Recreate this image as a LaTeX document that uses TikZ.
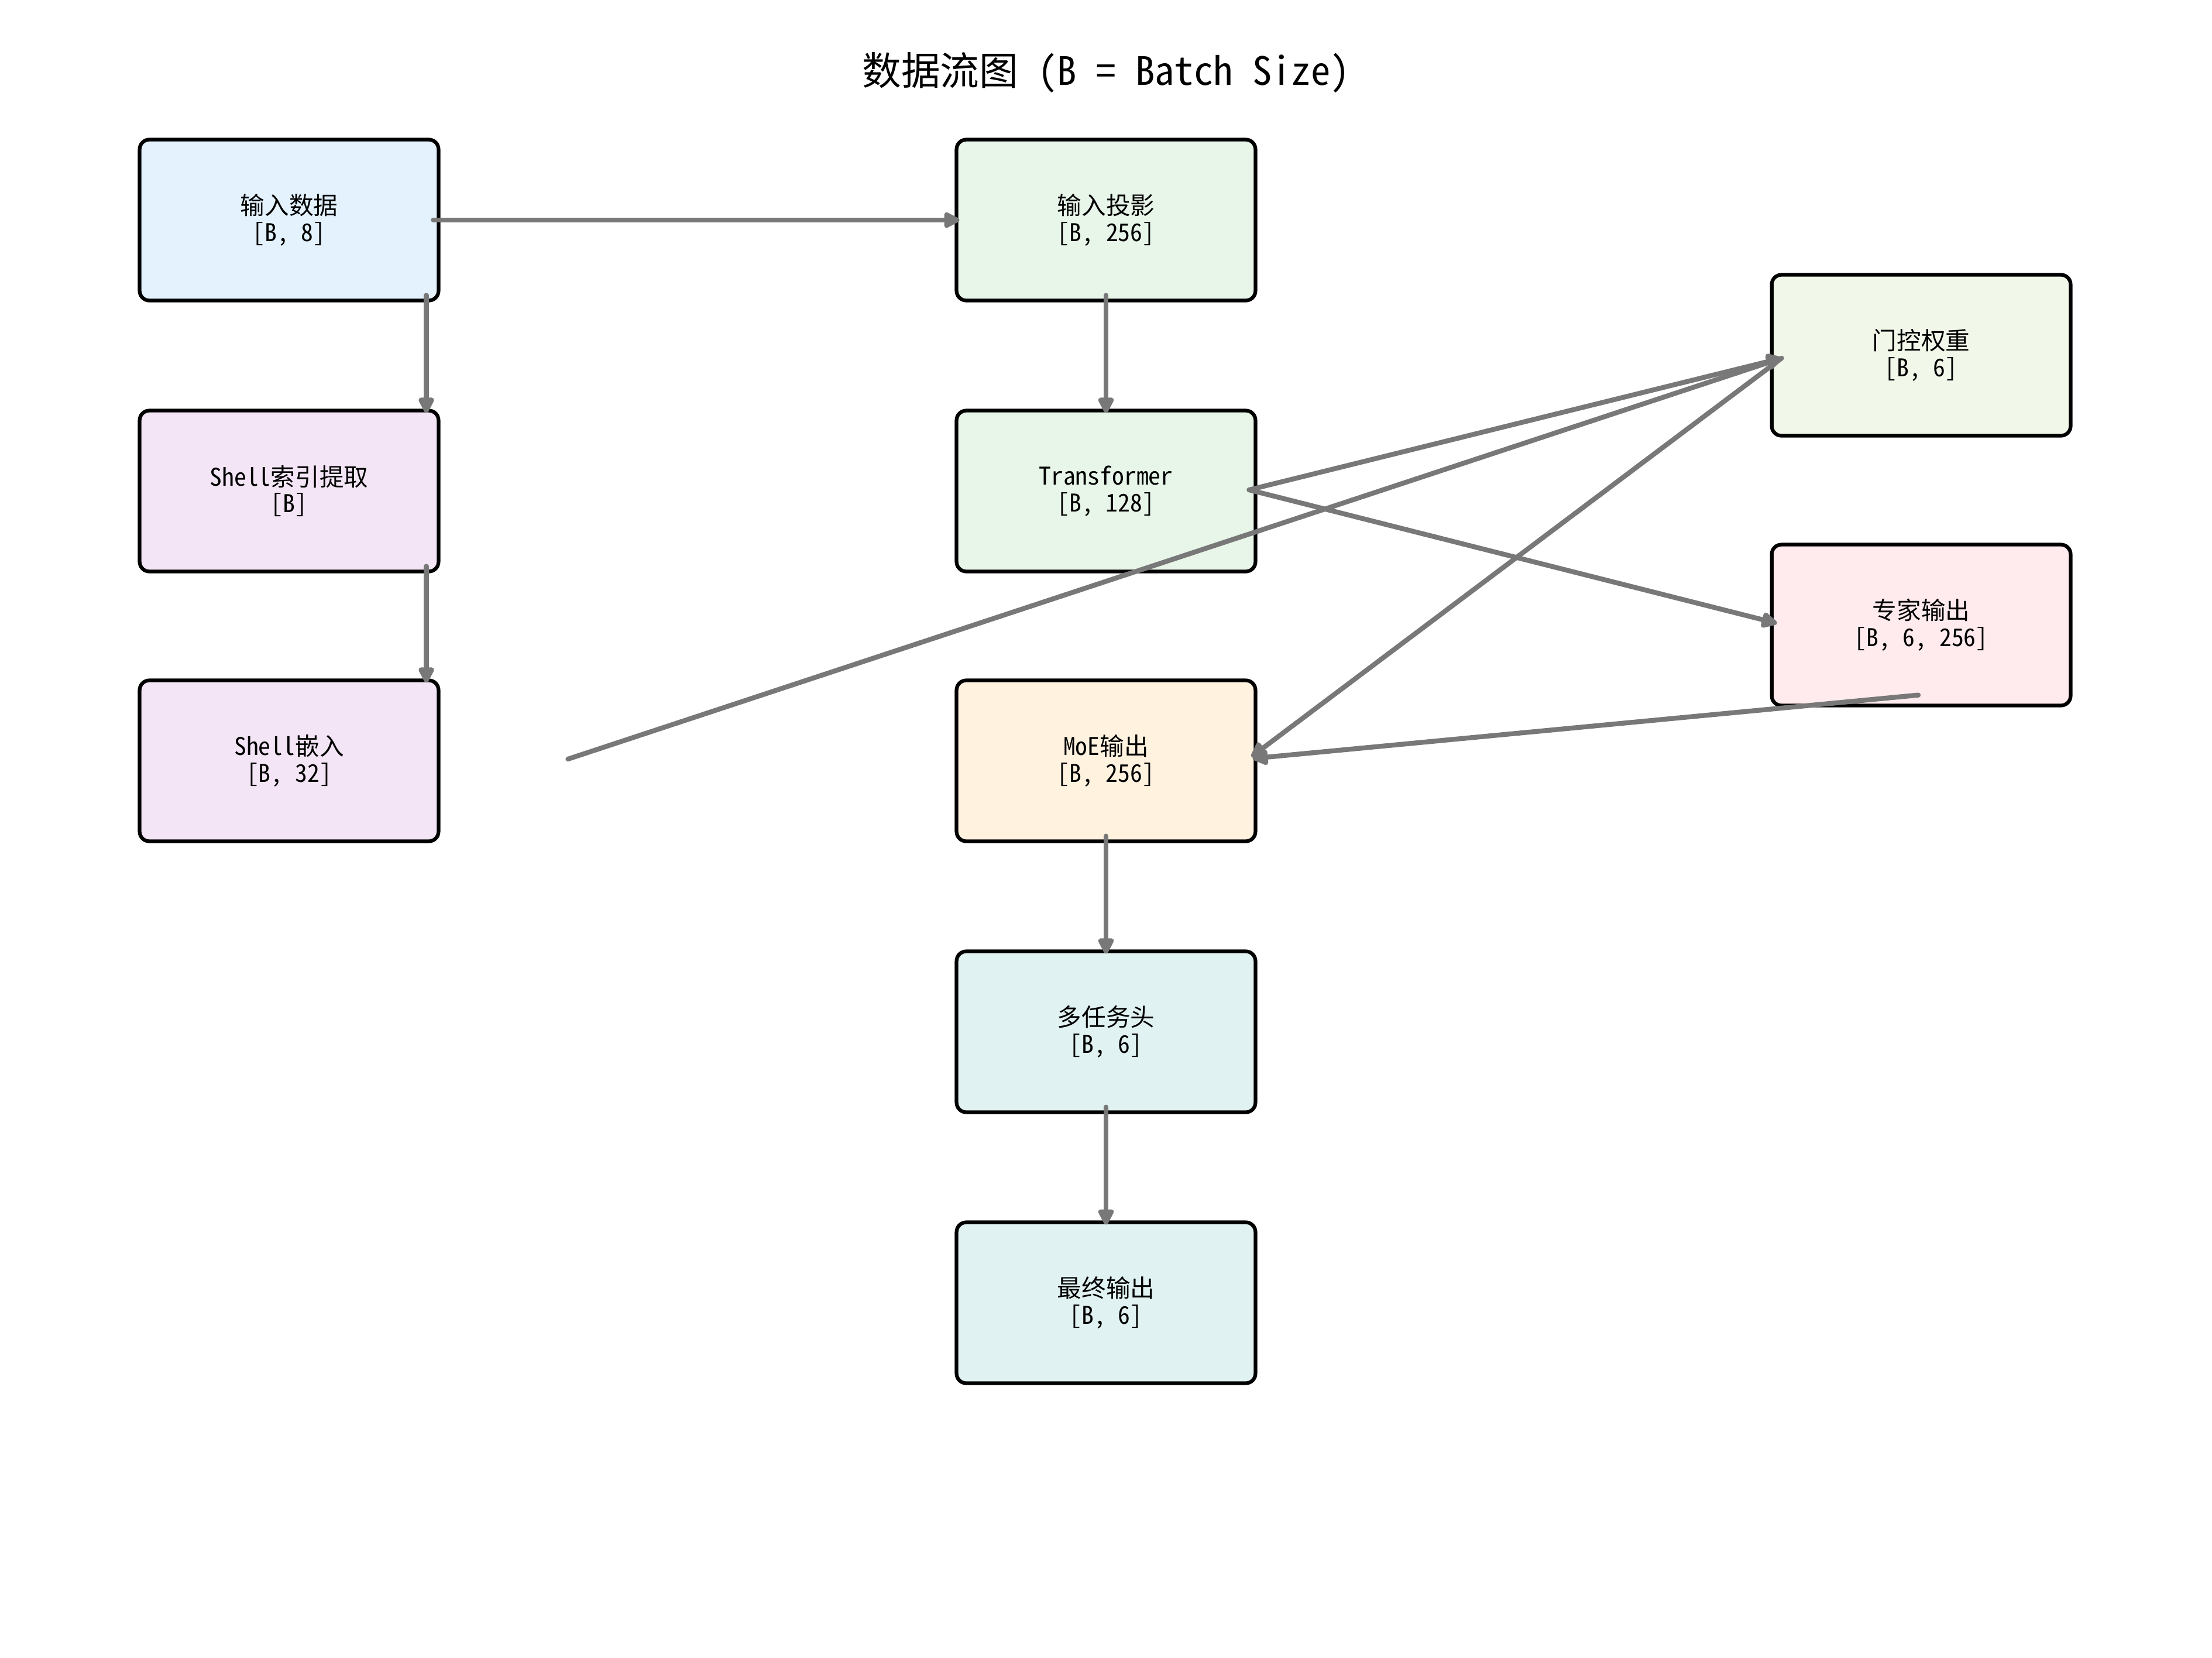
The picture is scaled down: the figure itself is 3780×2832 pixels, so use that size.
\documentclass[tikz,border=0pt]{standalone}
\usepackage{fontspec}
\setmainfont{Noto Sans Mono CJK SC}
\usetikzlibrary{arrows.meta,calc}

\definecolor{cBlue}{HTML}{E3F2FD}
\definecolor{cGreen}{HTML}{E8F5E9}
\definecolor{cLime}{HTML}{F1F8E9}
\definecolor{cPurple}{HTML}{F3E5F5}
\definecolor{cOrange}{HTML}{FFF3E0}
\definecolor{cTeal}{HTML}{E0F2F1}
\definecolor{cPink}{HTML}{FFEBEE}
\definecolor{flow}{HTML}{787878}

\begin{document}
\begin{tikzpicture}[x=0.24pt,y=-0.24pt,
  stage/.style={draw=black,line width=1.5pt,rounded corners=4pt,
    minimum width=122.6pt,minimum height=66pt,inner sep=0pt,
    align=center,font=\fontsize{10pt}{11pt}\selectfont},
  flowline/.style={draw=flow,line width=2pt,line cap=round,line join=round,
    -{Triangle[length=7.5pt,width=7pt,round]}}]

\useasboundingbox (0,0) rectangle (3780,2832);

% title
\node[font=\fontsize{16pt}{19pt}\selectfont] (title) at (1890,124) {数据流图 (B = Batch Size)};

% stages
\node[stage,fill=cBlue]   (inp)    at (494,376)   {输入数据\\{}[B, 8]};
\node[stage,fill=cGreen]  (proj)   at (1890,376)  {输入投影\\{}[B, 256]};
\node[stage,fill=cPurple] (shidx)  at (494,839)   {Shell索引提取\\{}[B]};
\node[stage,fill=cGreen]  (tf)     at (1890,839)  {Transformer\\{}[B, 128]};
\node[stage,fill=cLime]   (gate)   at (3283,607)  {门控权重\\{}[B, 6]};
\node[stage,fill=cPurple] (shemb)  at (494,1300)  {Shell嵌入\\{}[B, 32]};
\node[stage,fill=cPink]   (expert) at (3283,1068) {专家输出\\{}[B, 6, 256]};
\node[stage,fill=cOrange] (moe)    at (1890,1300) {MoE输出\\{}[B, 256]};
\node[stage,fill=cTeal]   (head)   at (1890,1763) {多任务头\\{}[B, 6]};
\node[stage,fill=cTeal]   (out)    at (1890,2226) {最终输出\\{}[B, 6]};

% connector end points
\coordinate (gatein)   at ($(gate.west)+(20,5)$);
\coordinate (moein)    at ($(moe.east)+(-10,-7)$);
\coordinate (tfout)    at ($(tf.east)+(-14,-2)$);
\coordinate (shembout) at ($(shemb.east)+(218,-3)$);

% connectors
\draw[flowline] ($(inp.east)+(-12,0)$) -- ($(proj.west)+(8,0)$);
\draw[flowline] ($(inp.south east)+(-24,-12)$) -- ($(shidx.north east)+(-24,7)$);
\draw[flowline] ($(shidx.south east)+(-24,-12)$) -- ($(shemb.north east)+(-24,7)$);
\draw[flowline] ($(proj.south)+(0,-12)$) -- ($(tf.north)+(0,7)$);
\draw[flowline] (tfout) -- (gatein);
\draw[flowline] (tfout) -- ($(expert.west)+(12,-3)$);
\draw[flowline] (shembout) -- (gatein);
\draw[flowline] (gatein) -- (moein);
\draw[flowline] ($(expert.south)+(-5,-21)$) -- ($(moe.east)+(-8,-4)$);
\draw[flowline] ($(moe.south)+(0,-12)$) -- ($(head.north)+(0,7)$);
\draw[flowline] ($(head.south)+(0,-12)$) -- ($(out.north)+(0,7)$);

\end{tikzpicture}
\end{document}
